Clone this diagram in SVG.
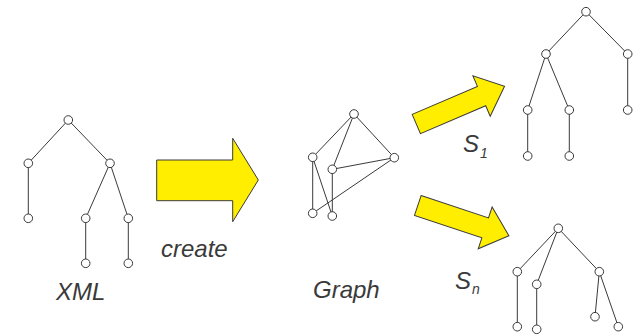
<svg xmlns="http://www.w3.org/2000/svg" width="635" height="335" viewBox="0 0 635 335">
<defs>
<style>
.e{stroke:#3a3a3a;stroke-width:1;fill:none}
.n{fill:#fff;stroke:#3a3a3a;stroke-width:1}
.arr{fill:#ffee00;stroke:#3a3a3a;stroke-width:1;stroke-linejoin:miter}
.t{font-family:"Liberation Sans",Arial,sans-serif;font-style:italic;fill:#3a3a3a;font-size:24px}
.sub{font-size:14px}
</style>
<polygon id="sarrow" points="0,-10.5 71,-10.5 71,-22 96,0 71,22 71,10.5 0,10.5"/>
</defs>
<rect width="635" height="335" fill="#fff"/>

<g id="connectors">
<!-- XML tree -->
<line class="e" x1="68.3" y1="120" x2="28.3" y2="163.3"/>
<line class="e" x1="68.3" y1="120" x2="110" y2="163.3"/>
<line class="e" x1="28.3" y1="163.3" x2="28.3" y2="218.3"/>
<line class="e" x1="110" y1="163.3" x2="85.7" y2="218.3"/>
<line class="e" x1="110" y1="163.3" x2="128.3" y2="218.3"/>
<line class="e" x1="85.7" y1="218.3" x2="85.7" y2="263.3"/>
<line class="e" x1="128.3" y1="218.3" x2="128.3" y2="263.3"/>
<!-- Graph -->
<line class="e" x1="354" y1="114" x2="312.7" y2="157.3"/>
<line class="e" x1="354" y1="114" x2="332.3" y2="169.3"/>
<line class="e" x1="354" y1="114" x2="394.3" y2="157.7"/>
<line class="e" x1="312.7" y1="157.3" x2="312.7" y2="213.3"/>
<line class="e" x1="312.7" y1="157.3" x2="332.3" y2="216"/>
<line class="e" x1="332.3" y1="169.3" x2="394.3" y2="157.7"/>
<line class="e" x1="332.3" y1="169.3" x2="332.3" y2="216"/>
<line class="e" x1="394.3" y1="157.7" x2="312.7" y2="213.3"/>
<!-- S1 tree -->
<line class="e" x1="586" y1="11.7" x2="546" y2="54"/>
<line class="e" x1="586" y1="11.7" x2="627.7" y2="54"/>
<line class="e" x1="546" y1="54" x2="527.7" y2="110"/>
<line class="e" x1="546" y1="54" x2="569.3" y2="110"/>
<line class="e" x1="627.7" y1="54" x2="627.7" y2="110"/>
<line class="e" x1="527.7" y1="110" x2="527.7" y2="156"/>
<line class="e" x1="569.3" y1="110" x2="569.3" y2="156"/>
<!-- Sn tree -->
<line class="e" x1="558.3" y1="228.3" x2="517.3" y2="271.7"/>
<line class="e" x1="558.3" y1="228.3" x2="536.7" y2="284.3"/>
<line class="e" x1="558.3" y1="228.3" x2="599.3" y2="271.7"/>
<line class="e" x1="517.3" y1="271.7" x2="517.3" y2="326.7"/>
<line class="e" x1="536.7" y1="284.3" x2="536.7" y2="329.3"/>
<line class="e" x1="599.3" y1="271.7" x2="595" y2="316.7"/>
<line class="e" x1="599.3" y1="271.7" x2="618.3" y2="326.7"/>
</g>

<g id="xml-tree">
<circle class="n" cx="68.3" cy="120" r="4.3"/>
<circle class="n" cx="28.3" cy="163.3" r="4.3"/>
<circle class="n" cx="110" cy="163.3" r="4.3"/>
<circle class="n" cx="28.3" cy="218.3" r="4.3"/>
<circle class="n" cx="85.7" cy="218.3" r="4.3"/>
<circle class="n" cx="128.3" cy="218.3" r="4.3"/>
<circle class="n" cx="85.7" cy="263.3" r="4.3"/>
<circle class="n" cx="128.3" cy="263.3" r="4.3"/>
</g>

<g id="graph">
<circle class="n" cx="354" cy="114" r="4.3"/>
<circle class="n" cx="312.7" cy="157.3" r="4.3"/>
<circle class="n" cx="394.3" cy="157.7" r="4.3"/>
<circle class="n" cx="332.3" cy="169.3" r="4.3"/>
<circle class="n" cx="312.7" cy="213.3" r="4.3"/>
<circle class="n" cx="332.3" cy="216" r="4.3"/>
</g>

<g id="s1-tree">
<circle class="n" cx="586" cy="11.7" r="4.3"/>
<circle class="n" cx="546" cy="54" r="4.3"/>
<circle class="n" cx="627.7" cy="54" r="4.3"/>
<circle class="n" cx="527.7" cy="110" r="4.3"/>
<circle class="n" cx="569.3" cy="110" r="4.3"/>
<circle class="n" cx="627.7" cy="110" r="4.3"/>
<circle class="n" cx="527.7" cy="156" r="4.3"/>
<circle class="n" cx="569.3" cy="156" r="4.3"/>
</g>

<g id="sn-tree">
<circle class="n" cx="558.3" cy="228.3" r="4.3"/>
<circle class="n" cx="517.3" cy="271.7" r="4.3"/>
<circle class="n" cx="536.7" cy="284.3" r="4.3"/>
<circle class="n" cx="599.3" cy="271.7" r="4.3"/>
<circle class="n" cx="517.3" cy="326.7" r="4.3"/>
<circle class="n" cx="536.7" cy="329.3" r="4.3"/>
<circle class="n" cx="595" cy="316.7" r="4.3"/>
<circle class="n" cx="618.3" cy="326.7" r="4.3"/>
</g>

<g id="create-arrow">
<polygon class="arr" points="156.7,160 232.7,160 232.7,138.3 258.3,180 232.7,221.7 232.7,200.7 156.7,200.7"/>
</g>
<g id="s1-arrow">
<use href="#sarrow" class="arr" transform="translate(416.3,124) rotate(-23.2)"/>
</g>
<g id="sn-arrow">
<use href="#sarrow" class="arr" transform="translate(417.8,205.5) rotate(18.4)"/>
</g>

<g id="labels">
<text class="t" x="56" y="300">XML</text>
<text class="t" x="161" y="257">create</text>
<text class="t" x="313" y="298">Graph</text>
<text class="t" x="463" y="152">S</text>
<text class="t sub" x="480" y="158">1</text>
<text class="t" x="455" y="289">S</text>
<text class="t sub" x="472" y="294">n</text>
</g>
</svg>
